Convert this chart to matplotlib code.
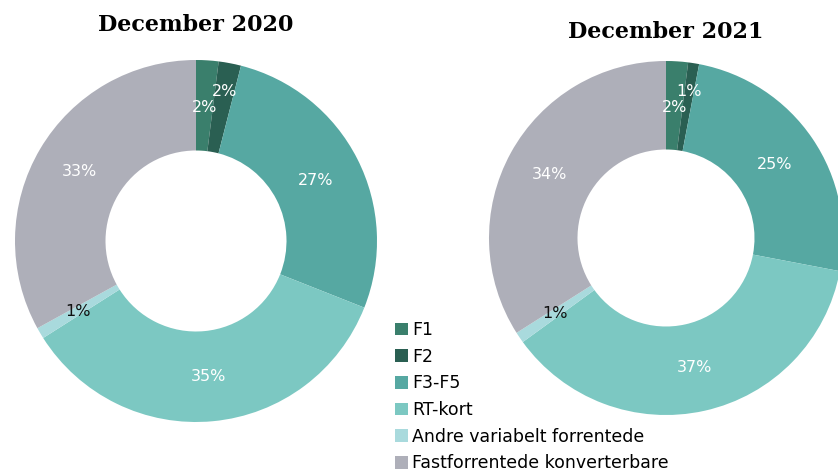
import numpy as np
import matplotlib
matplotlib.use("Agg")
import matplotlib.pyplot as plt

# ---- data ----
categories = ["F1", "F2", "F3-F5", "RT-kort", "Andre variabelt forrentede",
              "Fastforrentede konverterbare"]
values_2020 = [2, 2, 27, 35, 1, 33]
values_2021 = [2, 1, 25, 37, 1, 34]
titles = ["December 2020", "December 2021"]

colors = ["#3a7f6c", "#2a5f52", "#56a8a2", "#7cc8c2", "#a9dadd", "#aeafb9"]
label_colors = ["white", "white", "white", "white", "#111111", "white"]
label_radius = [0.74, 0.84, 0.74, 0.75, 0.76, 0.75]

W, H = 838, 473
fig = plt.figure(figsize=(W / 100, H / 100), dpi=100)

body_font = ["DejaVu Sans"]


def donut(cx, cy, r, values, title, title_y):
    # axes placed in pixel units so that data radius 1 == r pixels
    ax = fig.add_axes([(cx - r) / W, (H - cy - r) / H, 2 * r / W, 2 * r / H])
    wedges, _ = ax.pie(values, colors=colors, startangle=90, counterclock=False,
                       radius=1, wedgeprops=dict(width=0.5, linewidth=0))
    ax.set_xlim(-1, 1)
    ax.set_ylim(-1, 1)
    ax.set_aspect("equal")
    ax.axis("off")
    for w, v, c, rr in zip(wedges, values, label_colors, label_radius):
        ang = np.deg2rad((w.theta1 + w.theta2) / 2)
        ax.text(rr * np.cos(ang), rr * np.sin(ang), f"{v}%", color=c,
                ha="center", va="center", fontsize=11.5, family=body_font)
    fig.text(cx / W, 1 - title_y / H, title, ha="center", va="center",
             fontsize=16, fontweight="bold", family="DejaVu Serif")
    return wedges


wedges = donut(196, 241, 181, values_2020, titles[0], 25)
donut(666, 238, 177, values_2021, titles[1], 32)

fig.legend(wedges, categories, loc="upper left",
           bbox_to_anchor=(395 / W, 1 - 321 / H), frameon=False,
           prop={"family": body_font, "size": 12.5},
           handlelength=0.75, handleheight=0.75, handletextpad=0.25,
           labelspacing=0.5, borderpad=0, borderaxespad=0)

fig.savefig("out.png", dpi=100)
